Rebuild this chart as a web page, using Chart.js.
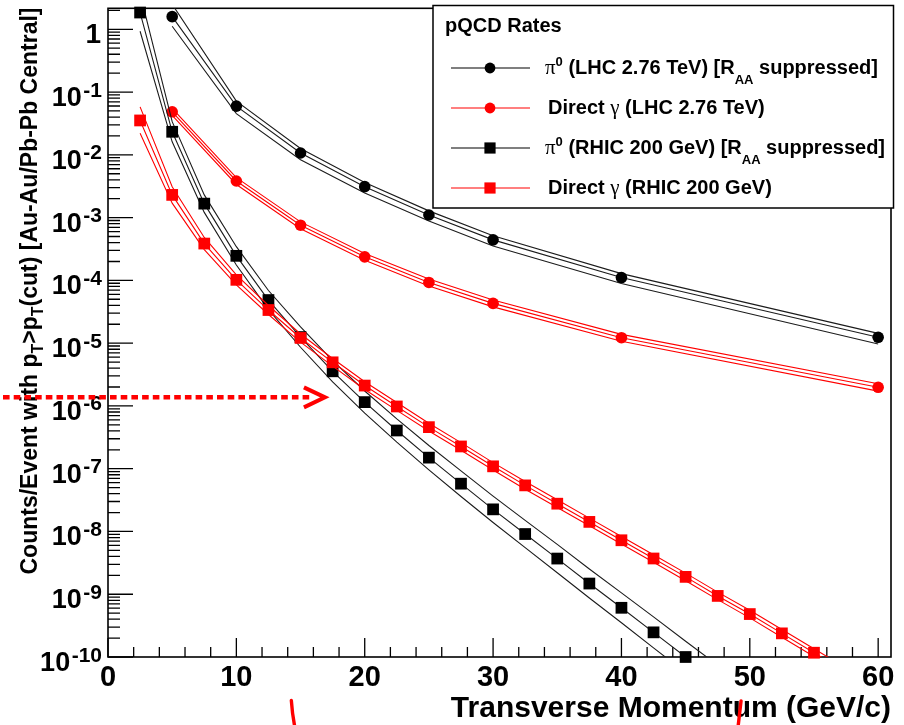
<!DOCTYPE html>
<html>
<head>
<meta charset="utf-8">
<script src="https://cdn.jsdelivr.net/npm/chart.js@4/dist/chart.umd.min.js"></script>
<style>
  html, body { margin: 0; padding: 0; background: #fff; }
  #wrap { width: 904px; height: 725px; }
</style>
</head>
<body>
<div id="wrap"><canvas id="c" width="904" height="725"></canvas></div>
<script>
// ---- pQCD rate curves: counts per event above a pT cut ----
// LHC 2.76 TeV (Pb-Pb central)
const lhcPt = [5, 10, 15, 20, 25, 30, 40, 60];
const lhcPi0   = [1.59, 0.0597, 0.0107, 3.11e-3, 1.10e-3, 4.42e-4, 1.11e-4, 1.24e-5];
const lhcPi0Hi = [2.5, 0.0716, 0.0126, 3.64e-3, 1.28e-3, 5.13e-4, 1.28e-4, 1.43e-5];
const lhcPi0Lo = [1.12, 0.0454, 8.35e-3, 2.46e-3, 8.8e-4, 3.54e-4, 8.9e-5, 9.7e-6];
const lhcGamma   = [0.0485, 3.83e-3, 7.57e-4, 2.37e-4, 9.27e-5, 4.3e-5, 1.22e-5, 1.98e-6];
const lhcGammaHi = [0.0548, 4.33e-3, 8.55e-4, 2.68e-4, 1.05e-4, 4.86e-5, 1.38e-5, 2.26e-6];
const lhcGammaLo = [0.0427, 3.37e-3, 6.66e-4, 2.09e-4, 8.16e-5, 3.78e-5, 1.07e-5, 1.72e-6];

// RHIC 200 GeV (Au-Au central)
const rhicPi0Pt = [2.5, 5, 7.5, 10, 12.5, 15, 17.5, 20, 22.5, 25, 27.5, 30, 32.5, 35, 37.5, 40, 42.5, 45];
const rhicPi0 = [1.85, 0.0233, 1.67e-3, 2.46e-4, 4.86e-5, 1.25e-5, 3.56e-6, 1.15e-6, 4.06e-7, 1.50e-7,
                 5.77e-8, 2.25e-8, 9.1e-9, 3.7e-9, 1.48e-9, 6.08e-10, 2.47e-10, 1.0e-10];
// curve points run one step past the last marker (below the axis floor)
const rhicPi0CurvePt = [2.5, 5, 7.5, 10, 12.5, 15, 17.5, 20, 22.5, 25, 27.5, 30, 32.5, 35, 37.5, 40, 42.5, 45, 47.5];
const rhicPi0Mid = [1.85, 0.0233, 1.67e-3, 2.46e-4, 4.86e-5, 1.25e-5, 3.56e-6, 1.15e-6, 4.06e-7, 1.50e-7,
                    5.77e-8, 2.25e-8, 9.1e-9, 3.7e-9, 1.48e-9, 6.08e-10, 2.47e-10, 1.0e-10, 4.1e-11];
const rhicPi0Hi = [3.7, 0.0338, 2.30e-3, 3.44e-4, 6.9e-5, 1.81e-5, 5.27e-6, 1.73e-6, 6.21e-7, 2.34e-7,
                   9.23e-8, 3.65e-8, 1.50e-8, 6.22e-9, 2.52e-9, 1.05e-9, 4.35e-10, 1.78e-10, 7.4e-11];
const rhicPi0Lo = [0.93, 0.0161, 1.21e-3, 1.76e-4, 3.42e-5, 8.6e-6, 2.41e-6, 7.67e-7, 2.65e-7, 9.6e-8,
                   3.61e-8, 1.39e-8, 5.52e-9, 2.2e-9, 8.7e-10, 3.51e-10, 1.40e-10, 5.6e-11, 2.3e-11];

const rhicGammaPt = [2.5, 5, 7.5, 10, 12.5, 15, 17.5, 20, 22.5, 25, 27.5, 30, 32.5, 35, 37.5, 40, 42.5, 45, 47.5, 50, 52.5, 55];
const rhicGamma = [0.0353, 2.30e-3, 3.86e-4, 1.02e-4, 3.37e-5, 1.21e-5, 4.95e-6, 2.11e-6, 9.8e-7, 4.59e-7, 2.26e-7,
                   1.09e-7, 5.42e-8, 2.77e-8, 1.42e-8, 7.24e-9, 3.71e-9, 1.89e-9, 9.4e-10, 4.83e-10, 2.38e-10, 1.17e-10];
const rhicGammaCurvePt = [2.5, 5, 7.5, 10, 12.5, 15, 17.5, 20, 22.5, 25, 27.5, 30, 32.5, 35, 37.5, 40, 42.5, 45, 47.5, 50, 52.5, 55, 57.5];
const rhicGammaMid = [0.0353, 2.30e-3, 3.86e-4, 1.02e-4, 3.37e-5, 1.21e-5, 4.95e-6, 2.11e-6, 9.8e-7, 4.59e-7, 2.26e-7,
                      1.09e-7, 5.42e-8, 2.77e-8, 1.42e-8, 7.24e-9, 3.71e-9, 1.89e-9, 9.4e-10, 4.83e-10, 2.38e-10, 1.17e-10, 5.8e-11];
const rhicGammaHi = [0.058, 3.1e-3, 4.83e-4, 1.22e-4, 3.98e-5, 1.40e-5, 5.69e-6, 2.43e-6, 1.13e-6, 5.28e-7, 2.6e-7,
                     1.25e-7, 6.23e-8, 3.19e-8, 1.63e-8, 8.33e-9, 4.27e-9, 2.17e-9, 1.08e-9, 5.55e-10, 2.74e-10, 1.35e-10, 6.7e-11];
const rhicGammaLo = [0.0221, 1.70e-3, 3.09e-4, 8.5e-5, 2.86e-5, 1.04e-5, 4.3e-6, 1.83e-6, 8.5e-7, 3.99e-7, 1.97e-7,
                     9.5e-8, 4.71e-8, 2.41e-8, 1.23e-8, 6.3e-9, 3.23e-9, 1.64e-9, 8.2e-10, 4.2e-10, 2.07e-10, 1.02e-10, 5.0e-11];

// axis labels
const yTickExponents = [0, -1, -2, -3, -4, -5, -6, -7, -8, -9, -10];
const xTickLabels = [0, 10, 20, 30, 40, 50, 60];
const xTitle = 'Transverse Momentum (GeV/c)';
const yTitle = [['Counts/Event with p', 'b'], ['T', 'sub'], ['>p', 'b'], ['T', 'sub'], ['(cut) [Au-Au/Pb-Pb Central]', 'b']];
const legendTitle = 'pQCD Rates';
const seriesNames = [
  [['π', 'greek'], ['0', 'sup'], [' (LHC 2.76 TeV) [R', 'b'], ['AA', 'sub'], [' suppressed]', 'b']],
  [['Direct ', 'b'], ['γ', 'greek'], [' (LHC 2.76 TeV)', 'b']],
  [['π', 'greek'], ['0', 'sup'], [' (RHIC 200 GeV) [R', 'b'], ['AA', 'sub'], [' suppressed]', 'b']],
  [['Direct ', 'b'], ['γ', 'greek'], [' (RHIC 200 GeV)', 'b']]
];

// trigger threshold marker (rate at the pT cut)
const cutRate = 1.37e-6;
const cutArrowTipPt = 16.9;

// ---------------------------------------------------------------
const SANS = "'Liberation Sans', Arial, Helvetica, sans-serif";
const SERIF = "'Liberation Serif', 'DejaVu Serif', serif";
const BLACK = '#1c1c1c';
const RED = '#ff0000';

function pts(xs, ys) { return xs.map((x, i) => ({ x: x, y: ys[i] })); }

function curve(xs, ys, color, order) {
  return {
    data: pts(xs, ys), showLine: true, borderColor: color, backgroundColor: color,
    borderWidth: 1.1, pointRadius: 0, pointHoverRadius: 0, tension: 0, fill: false, order: order
  };
}
function markers(xs, ys, color, style, radius, order) {
  return {
    data: pts(xs, ys), showLine: false, pointStyle: style, pointRadius: radius, pointHoverRadius: radius,
    pointBackgroundColor: color, pointBorderColor: color, pointBorderWidth: 0, order: order, clip: false
  };
}

const datasets = [
  // LHC pi0
  curve(lhcPt, lhcPi0Hi, BLACK, 7), curve(lhcPt, lhcPi0, BLACK, 7), curve(lhcPt, lhcPi0Lo, BLACK, 7),
  markers(lhcPt, lhcPi0, '#000', 'circle', 5.8, 6),
  // LHC direct photon
  curve(lhcPt, lhcGammaHi, RED, 5), curve(lhcPt, lhcGamma, RED, 5), curve(lhcPt, lhcGammaLo, RED, 5),
  markers(lhcPt, lhcGamma, RED, 'circle', 5.8, 4),
  // RHIC pi0
  curve(rhicPi0CurvePt, rhicPi0Hi, BLACK, 3), curve(rhicPi0CurvePt, rhicPi0Mid, BLACK, 3), curve(rhicPi0CurvePt, rhicPi0Lo, BLACK, 3),
  markers(rhicPi0Pt, rhicPi0, '#000', 'rect', 8.3, 2),
  // RHIC direct photon
  curve(rhicGammaCurvePt, rhicGammaHi, RED, 1), curve(rhicGammaCurvePt, rhicGammaMid, RED, 1), curve(rhicGammaCurvePt, rhicGammaLo, RED, 1),
  markers(rhicGammaPt, rhicGamma, RED, 'rect', 8.3, 0)
];

const fonts = {
  b: { font: 'bold 20px ' + SANS, dy: 0 },
  greek: { font: '21px ' + SERIF, dy: 0 },
  sup: { font: 'bold 13px ' + SANS, dy: -8 },
  sub: { font: 'bold 13px ' + SANS, dy: 10 }
};
const titleFonts = {
  b: { font: 'bold 23px ' + SANS, dy: 0 },
  sub: { font: 'bold 16px ' + SANS, dy: 6 }
};

function richWidth(ctx, segs, table) {
  let w = 0;
  segs.forEach(([t, k]) => { ctx.font = table[k].font; w += ctx.measureText(t).width; });
  return w;
}
function drawRich(ctx, x, y, segs, table) {
  ctx.textAlign = 'left';
  ctx.textBaseline = 'alphabetic';
  segs.forEach(([t, k]) => {
    ctx.font = table[k].font;
    ctx.fillText(t, x, y + table[k].dy);
    x += ctx.measureText(t).width;
  });
}

const rootStyle = {
  id: 'rootStyle',
  beforeDatasetsDraw(chart) {
    const { ctx, chartArea: a, scales: { x, y } } = chart;
    ctx.save();
    ctx.strokeStyle = '#000';
    ctx.lineWidth = 1.3;
    ctx.beginPath();
    // log ticks on the left axis
    for (let e = -10; e <= 0; e++) {
      for (let m = 1; m < 10; m++) {
        const v = m * Math.pow(10, e);
        if (v > y.max) continue;
        const py = y.getPixelForValue(v);
        ctx.moveTo(a.left, py);
        ctx.lineTo(a.left + (m === 1 ? 25 : 12), py);
      }
    }
    // ticks on the bottom axis
    for (let t = 0; t <= 60; t += 2) {
      const px = x.getPixelForValue(t);
      ctx.moveTo(px, a.bottom);
      ctx.lineTo(px, a.bottom - (t % 10 === 0 ? 19 : 10));
    }
    ctx.stroke();
    ctx.lineWidth = 1.6;
    ctx.strokeRect(a.left, a.top, a.right - a.left, a.bottom - a.top);
    ctx.restore();
  },
  afterDatasetsDraw(chart) {
    const { ctx, chartArea: a, scales: { x, y } } = chart;
    ctx.save();
    ctx.fillStyle = '#000';

    // y tick labels: 1, 10^-1 ... 10^-10
    const labelRight = a.left - 7;
    yTickExponents.forEach(e => {
      const py = y.getPixelForValue(Math.pow(10, e));
      ctx.textBaseline = 'alphabetic';
      if (e === 0) {
        ctx.font = 'bold 28px ' + SANS;
        ctx.textAlign = 'right';
        ctx.fillText('1', labelRight, py + 14);
      } else {
        const sup = String(e);
        ctx.font = 'bold 21px ' + SANS;
        const ws = ctx.measureText(sup).width;
        ctx.textAlign = 'left';
        ctx.fillText(sup, labelRight + 1 - ws, py + 4.5);
        ctx.font = 'bold 27px ' + SANS;
        ctx.textAlign = 'right';
        ctx.fillText('10', labelRight - ws - 0.5, py + 14);
      }
    });

    // x tick labels
    ctx.font = 'bold 29px ' + SANS;
    ctx.textAlign = 'center';
    xTickLabels.forEach(t => ctx.fillText(String(t), x.getPixelForValue(t), a.bottom + 29));

    // axis titles
    ctx.font = 'bold 30px ' + SANS;
    ctx.textAlign = 'right';
    ctx.fillText(xTitle, a.right, a.bottom + 60);

    ctx.save();
    ctx.translate(37, 291);
    ctx.rotate(-Math.PI / 2);
    const tw = richWidth(ctx, yTitle, titleFonts);
    drawRich(ctx, -tw / 2, 0, yTitle, titleFonts);
    ctx.restore();

    // legend box
    const L = { left: 433, top: 5.5, right: 893.5, bottom: 208 };
    ctx.fillStyle = '#fff';
    ctx.fillRect(L.left, L.top, L.right - L.left, L.bottom - L.top);
    ctx.strokeStyle = '#000';
    ctx.lineWidth = 1.5;
    ctx.strokeRect(L.left, L.top, L.right - L.left, L.bottom - L.top);
    ctx.fillStyle = '#000';
    ctx.font = 'bold 20px ' + SANS;
    ctx.textAlign = 'left';
    ctx.fillText(legendTitle, L.left + 12, 32);

    const styles = [
      { color: '#000', shape: 'circle' }, { color: RED, shape: 'circle' },
      { color: '#000', shape: 'rect' }, { color: RED, shape: 'rect' }
    ];
    seriesNames.forEach((segs, i) => {
      const cy = 68 + i * 40;
      const st = styles[i];
      ctx.strokeStyle = st.color;
      ctx.fillStyle = st.color;
      ctx.lineWidth = 1.1;
      ctx.beginPath();
      ctx.moveTo(L.left + 18, cy);
      ctx.lineTo(L.left + 97, cy);
      ctx.stroke();
      ctx.beginPath();
      if (st.shape === 'circle') ctx.arc(L.left + 57, cy, 5.4, 0, Math.PI * 2);
      else ctx.rect(L.left + 57 - 5.6, cy - 5.6, 11.2, 11.2);
      ctx.fill();
      ctx.fillStyle = '#000';
      const startX = segs[0][1] === 'greek' ? 545 : 548;
      drawRich(ctx, startX, cy + 6, segs, fonts);
    });

    // dotted arrow marking the trigger rate
    const ay = y.getPixelForValue(cutRate);
    const tip = x.getPixelForValue(cutArrowTipPt);
    ctx.strokeStyle = RED;
    ctx.lineWidth = 4.5;
    ctx.setLineDash([6.6, 4.1]);
    ctx.lineCap = 'butt';
    ctx.beginPath();
    ctx.moveTo(3, ay);
    ctx.lineTo(tip - 15, ay);
    ctx.stroke();
    ctx.setLineDash([]);
    ctx.lineWidth = 4;
    ctx.lineJoin = 'miter';
    ctx.beginPath();
    ctx.moveTo(tip - 21, ay - 10);
    ctx.lineTo(tip, ay);
    ctx.lineTo(tip - 21, ay + 10);
    ctx.stroke();

    // hand-drawn marks below the axis
    ctx.lineWidth = 3.4;
    ctx.lineCap = 'round';
    const m1 = x.getPixelForValue(14.4);
    ctx.beginPath();
    ctx.moveTo(m1 - 1.5, 700.5);
    ctx.quadraticCurveTo(m1 - 0.5, 715, m1 + 2, 727);
    ctx.stroke();
    const m2 = x.getPixelForValue(49.2);
    ctx.beginPath();
    ctx.moveTo(m2 + 1.5, 701);
    ctx.quadraticCurveTo(m2, 714, m2 - 1.5, 727);
    ctx.stroke();

    ctx.restore();
  }
};

new Chart(document.getElementById('c'), {
  type: 'scatter',
  data: { datasets: datasets },
  options: {
    responsive: false,
    animation: false,
    devicePixelRatio: 1,
    events: [],
    layout: { padding: { left: 108, top: 7, right: 13, bottom: 68 } },
    scales: {
      x: { type: 'linear', min: 0, max: 61, display: false },
      y: { type: 'logarithmic', min: 1e-10, max: 2.16, display: false }
    },
    plugins: { legend: { display: false }, tooltip: { enabled: false }, title: { display: false } }
  },
  plugins: [rootStyle]
});
</script>
</body>
</html>
